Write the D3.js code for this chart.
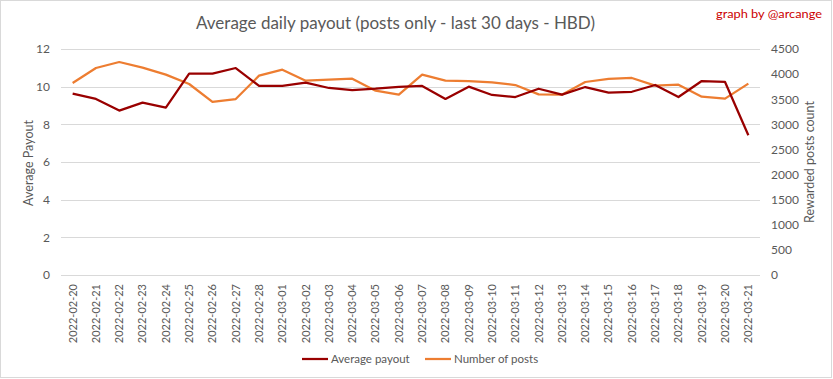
<!DOCTYPE html>
<html><head><meta charset="utf-8">
<script src="https://cdn.jsdelivr.net/npm/d3@7"></script>
<style>
html,body{margin:0;padding:0;background:#fff;}
svg text{font-family:Lato,"Open Sans",sans-serif;}
</style></head>
<body>
<svg id="chart" width="833" height="379"></svg>
<script>
const dates = ["2022-02-20","2022-02-21","2022-02-22","2022-02-23","2022-02-24","2022-02-25","2022-02-26","2022-02-27","2022-02-28","2022-03-01","2022-03-02","2022-03-03","2022-03-04","2022-03-05","2022-03-06","2022-03-07","2022-03-08","2022-03-09","2022-03-10","2022-03-11","2022-03-12","2022-03-13","2022-03-14","2022-03-15","2022-03-16","2022-03-17","2022-03-18","2022-03-19","2022-03-20","2022-03-21"];
const avgPayout = [9.63,9.35,8.73,9.15,8.89,10.69,10.69,10.99,10.04,10.04,10.21,9.93,9.82,9.89,9.99,10.04,9.35,10.0,9.56,9.45,9.89,9.58,9.98,9.68,9.73,10.09,9.45,10.30,10.25,7.42];
const numPosts = [3823,4122,4241,4128,3989,3803,3445,3504,3969,4088,3869,3889,3909,3670,3590,3989,3869,3862,3836,3783,3597,3590,3843,3903,3923,3770,3790,3551,3511,3810];
const leftTicks = [0,2,4,6,8,10,12];
const rightTicks = [0,500,1000,1500,2000,2500,3000,3500,4000,4500];

const svg = d3.select("#chart");
const L = 61, R = 760, T = 49, B = 275;
const grey = "#595959";

svg.append("rect").attr("x",0.5).attr("y",0.5).attr("width",831).attr("height",377)
  .attr("fill","#fff").attr("stroke","#d9d9d9");

const x = d3.scaleBand().domain(dates).range([L,R]).padding(0);
const yL = d3.scaleLinear().domain([0,12]).range([B,T]);
const yR = d3.scaleLinear().domain([0,4500]).range([B,T]);
const cx = d => x(d) + x.bandwidth()/2;

// gridlines
svg.append("g").selectAll("line").data(leftTicks).join("line")
  .attr("x1",L).attr("x2",R).attr("y1",d=>Math.round(yL(d))+0.5).attr("y2",d=>Math.round(yL(d))+0.5)
  .attr("stroke","#d9d9d9").attr("stroke-width",1);

// left axis
const gl = svg.append("g").attr("transform",`translate(${L-11},0)`)
  .call(d3.axisLeft(yL).tickValues(leftTicks).tickSize(0).tickPadding(0).tickFormat(d3.format("d")));
gl.select(".domain").remove();
gl.selectAll("text").attr("fill",grey).attr("font-size",12).style("font-family","Lato");

// right axis
const gr = svg.append("g").attr("transform",`translate(${R+11},0)`)
  .call(d3.axisRight(yR).tickValues(rightTicks).tickSize(0).tickPadding(0).tickFormat(d3.format("d")));
gr.select(".domain").remove();
gr.selectAll("text").attr("fill",grey).attr("font-size",12).style("font-family","Lato");

// bottom axis
const gb = svg.append("g").attr("transform",`translate(0,${B})`)
  .call(d3.axisBottom(x).tickSize(0).tickPadding(0));
gb.select(".domain").remove();
gb.selectAll("text").attr("fill",grey).attr("font-size",11).style("font-family","Lato")
  .attr("text-anchor","end").attr("dy","0.35em")
  .attr("transform","translate(0,9) rotate(-90)").attr("x",0).attr("y",0);

// axis titles
svg.append("text").attr("transform",`translate(33,163) rotate(-90)`).attr("text-anchor","middle")
  .attr("fill",grey).attr("font-size",12.5).text("Average Payout");
svg.append("text").attr("transform",`translate(814,162) rotate(-90)`).attr("text-anchor","middle")
  .attr("fill",grey).attr("font-size",12.5).text("Rewarded posts count");

// lines
const lineL = d3.line().x((d,i)=>cx(dates[i])).y(d=>yL(d));
const lineR = d3.line().x((d,i)=>cx(dates[i])).y(d=>yR(d));
svg.append("path").datum(numPosts).attr("d",lineR).attr("fill","none")
  .attr("stroke","#ed7d31").attr("stroke-width",2.25).attr("stroke-linejoin","round");
svg.append("path").datum(avgPayout).attr("d",lineL).attr("fill","none")
  .attr("stroke","#990000").attr("stroke-width",2.25).attr("stroke-linejoin","round");

// title
svg.append("text").attr("x",196).attr("y",29).attr("fill",grey).attr("font-size",18)
  .attr("textLength",399).attr("lengthAdjust","spacingAndGlyphs")
  .text("Average daily payout (posts only - last 30 days - HBD)");
svg.append("text").attr("x",716).attr("y",18).attr("fill","#cc0000").attr("font-size",11.5)
  .attr("textLength",106).attr("lengthAdjust","spacingAndGlyphs")
  .text("graph by @arcange");

// legend
const leg = [{name:"Average payout",color:"#990000",x:302},{name:"Number of posts",color:"#ed7d31",x:425}];
const lg = svg.append("g");
leg.forEach(l=>{
  lg.append("line").attr("x1",l.x).attr("x2",l.x+26).attr("y1",359).attr("y2",359)
    .attr("stroke",l.color).attr("stroke-width",2.25);
  lg.append("text").attr("x",l.x+29).attr("y",363).attr("fill",grey).attr("font-size",11.5).text(l.name);
});
</script>
</body></html>
